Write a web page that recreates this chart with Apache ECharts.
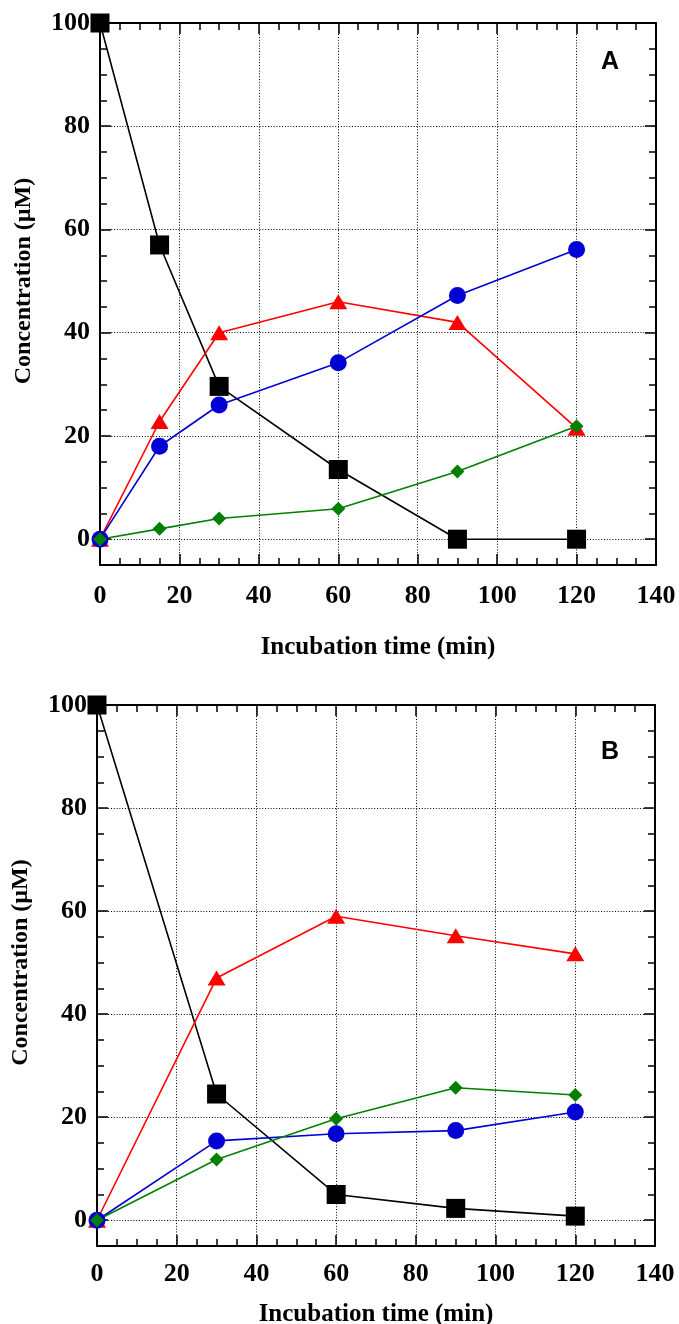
<!DOCTYPE html>
<html lang="en">
<head>
    <meta charset="UTF-8">
    <title>Concentration vs incubation time</title>
    <script src="https://cdn.jsdelivr.net/npm/echarts@6/dist/echarts.min.js"></script>
    <style>
        html, body { margin: 0; padding: 0; background: #fff; }
        #main { width: 679px; height: 1324px; }
    </style>
</head>
<body>
<div id="main"></div>
<script type="text/javascript">
    // panel A
    var timeA  = [0, 15, 30, 60, 90, 120];
    var blackA = [100, 57, 29.6, 13.5, 0, 0];
    var redA   = [0, 22.8, 40, 46, 42, 21.5];
    var blueA  = [0, 18, 26, 34.2, 47.2, 56.1];
    var greenA = [0, 2, 4, 5.9, 13.1, 21.9];

    // panel B
    var timeB  = [0, 30, 60, 90, 120];
    var blackB = [100, 24.5, 5, 2.3, 0.8];
    var redB   = [0, 47, 59, 55.2, 51.7];
    var blueB  = [0, 15.4, 16.8, 17.4, 21];
    var greenB = [0, 11.8, 19.7, 25.7, 24.3];

    var panelLabels = ['A', 'B'];
    var xTitle = 'Incubation time (min)';
    var yTitle = 'Concentration (\u00b5M)';

    var serif = '"Liberation Serif", "Times New Roman", serif';
    var black = '#000';

    function pair(xs, ys) {
        return xs.map(function (x, i) { return [x, ys[i]]; });
    }

    function xAxisFor(gi, bottom, labelMargin, titleGap) {
        return {
            gridIndex: gi,
            type: 'value',
            position: bottom ? 'bottom' : 'top',
            min: 0, max: 140, interval: 20,
            axisLine: {show: true, onZero: false, lineStyle: {color: black, width: 2}},
            axisTick: {show: true, inside: true, length: 11, lineStyle: {color: black, width: 1.5}},
            minorTick: {show: true, splitNumber: 4, length: 7, lineStyle: {color: black, width: 1.5}},
            splitLine: {show: bottom, lineStyle: {color: black, type: [1, 1.8], width: 1}},
            axisLabel: {show: bottom, fontFamily: serif, fontWeight: 'bold', fontSize: 26, color: black, margin: labelMargin},
            name: bottom ? xTitle : '',
            nameLocation: 'middle',
            nameGap: titleGap,
            nameTextStyle: {fontFamily: serif, fontWeight: 'bold', fontSize: 25, color: black}
        };
    }

    function yAxisFor(gi, left) {
        return {
            gridIndex: gi,
            type: 'value',
            position: left ? 'left' : 'right',
            min: -5, max: 100, splitNumber: 5, minInterval: 20, maxInterval: 20,
            axisLine: {show: true, onZero: false, lineStyle: {color: black, width: 2}},
            axisTick: {show: true, inside: true, length: 11, lineStyle: {color: black, width: 1.5}},
            minorTick: {show: true, splitNumber: 4, length: 7, lineStyle: {color: black, width: 1.5}},
            splitLine: {show: left, lineStyle: {color: black, type: [1, 1.8], width: 1}},
            axisLabel: {
                show: left, fontFamily: serif, fontWeight: 'bold', fontSize: 26, color: black, margin: 10,
                formatter: function (v) { return v < 0 ? '' : String(v); }
            },
            name: left ? yTitle : '',
            nameLocation: 'middle',
            nameGap: 64,
            nameTextStyle: {fontFamily: serif, fontWeight: 'bold', fontSize: 24, color: black, padding: [0, 0, 0, 26]}
        };
    }

    function line(gi, xs, ys, color, symbol, size) {
        return {
            type: 'line',
            xAxisIndex: gi * 2,
            yAxisIndex: gi * 2,
            data: pair(xs, ys),
            symbol: symbol,
            symbolSize: size,
            showAllSymbol: true,
            lineStyle: {color: color, width: 1.6},
            itemStyle: {color: color, borderWidth: 0},
            emphasis: {disabled: true}
        };
    }

    var chart = echarts.init(document.getElementById('main'));

    var option = {
        animation: false,
        backgroundColor: '#fff',
        title: [
            {text: panelLabels[0], left: 601, top: 50, padding: 0,
             textStyle: {fontFamily: '"Liberation Sans", Arial, sans-serif', fontWeight: 'bold', fontSize: 25, color: black}},
            {text: panelLabels[1], left: 601, top: 740, padding: 0,
             textStyle: {fontFamily: '"Liberation Sans", Arial, sans-serif', fontWeight: 'bold', fontSize: 25, color: black}}
        ],
        grid: [
            {left: 100, top: 23, width: 556, height: 542, outerBoundsMode: 'none'},
            {left: 97, top: 705, width: 558, height: 541, outerBoundsMode: 'none'}
        ],
        xAxis: [
            xAxisFor(0, true, 18, 70), xAxisFor(0, false, 18, 70),
            xAxisFor(1, true, 15, 56), xAxisFor(1, false, 15, 56)
        ],
        yAxis: [yAxisFor(0, true), yAxisFor(0, false), yAxisFor(1, true), yAxisFor(1, false)],
        series: [
            line(0, timeA, blackA, '#000000', 'rect', 19),
            line(0, timeA, redA, '#ff0000', 'triangle', [18, 15]),
            line(0, timeA, blueA, '#0000d4', 'circle', 17),
            line(0, timeA, greenA, '#008000', 'diamond', 14),
            line(1, timeB, blackB, '#000000', 'rect', 19),
            line(1, timeB, redB, '#ff0000', 'triangle', [18, 15]),
            line(1, timeB, blueB, '#0000d4', 'circle', 17),
            line(1, timeB, greenB, '#008000', 'diamond', 14)
        ]
    };

    chart.setOption(option);
</script>
</body>
</html>
